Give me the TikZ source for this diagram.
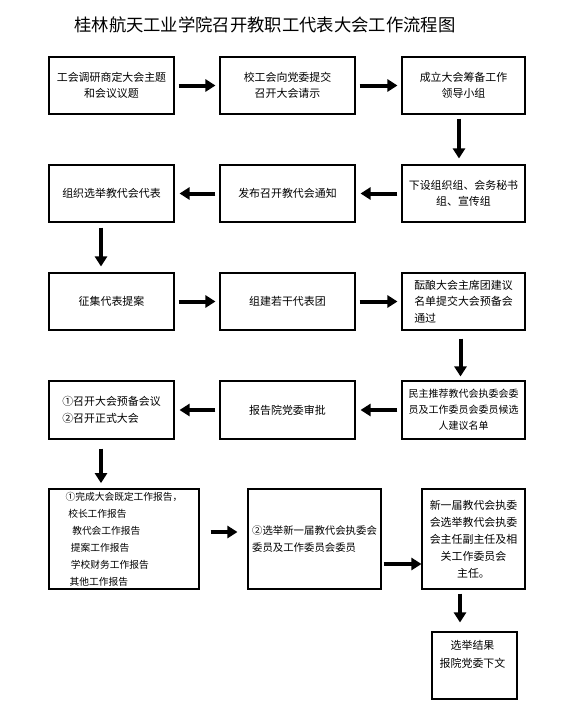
\documentclass[tikz,border=0pt]{standalone}
\usepackage{fontspec}
\newfontfamily\cjk{Noto Sans CJK SC}
\usetikzlibrary{arrows.meta, calc}

\tikzset{
  box/.style={draw, line width=0.8pt, fill=white, inner sep=0pt, align=center,
    font=\cjk\fontsize{8.2}{12.4}\selectfont},
  wideA/.style={box, minimum width=93.75pt, minimum height=42.75pt},
  wideB/.style={box, minimum width=101.25pt, minimum height=42.75pt},
  wideC/.style={box, minimum width=92.25pt, minimum height=42.75pt},
  flow/.style={line width=3pt, -{Triangle[length=7.5pt,width=9pt]},
    shorten <=3pt, shorten >=3pt},
}

\begin{document}
\begin{tikzpicture}[x=0.75pt, y=-0.75pt]
  \useasboundingbox (0,0) rectangle (575,714);
  \node[font=\cjk\fontsize{13}{15}\selectfont] (title) at (265,25) {桂林航天工业学院召开教职工代表大会工作流程图};

  % row 1
  \node[wideA] (A1) at (111.5,85.5) {工会调研商定大会主题\\和会议议题};
  \node[wideB] (B1) at (287.5,85.5) {校工会向党委提交\\召开大会请示};
  \node[wideC] (C1) at (463.5,85.5) {成立大会筹备工作\\领导小组};

  % row 2
  \node[wideA] (A2) at (111.5,193.5) {组织选举教代会代表};
  \node[wideB] (B2) at (287.5,193.5) {发布召开教代会通知};
  \node[wideC] (C2) at (463.5,193.5) {下设组织组、会务秘书\\组、宣传组};

  % row 3
  \node[wideA] (A3) at (111.5,301.5) {征集代表提案};
  \node[wideB] (B3) at (287.5,301.5) {组建若干代表团};
  \node[wideC, align=left] (C3) at (463.5,301.5) {酝酿大会主席团建议\\名单提交大会预备会\\通过};

  % row 4
  \node[wideA, align=left, minimum height=43.5pt] (A4) at (111.5,410) {①召开大会预备会议\\②召开正式大会};
  \node[wideB, minimum height=43.5pt] (B4) at (287.5,410) {报告院党委审批};
  \node[wideC, minimum height=43.5pt, font=\cjk\fontsize{7.5}{12}\selectfont] (C4) at (463.5,410)
    {民主推荐教代会执委会委\\员及工作委员会委员候选\\人建议名单};

  % row 5
  \node[box, align=left, minimum width=112.5pt, minimum height=75pt,
    font=\cjk\fontsize{7.3}{12.75}\selectfont] (A5) at (124,539)
    {①完成大会既定工作报告，\\\hspace{2pt}校长工作报告\\\hspace{5pt}教代会工作报告\\\hspace{4pt}提案工作报告\\\hspace{4pt}学校财务工作报告\\\hspace{3pt}其他工作报告};
  \node[box, align=left, minimum width=99.75pt, minimum height=75pt,
    font=\cjk\fontsize{7.8}{12.75}\selectfont] (B5) at (314.5,539)
    {②选举新一届教代会执委会\\委员及工作委员会委员};
  \node[box, minimum width=77.25pt, minimum height=75pt,
    font=\cjk\fontsize{8.2}{12.75}\selectfont] (C5) at (473.5,539)
    {新一届教代会执委\\会选举教代会执委\\会主任副主任及相\\关工作委员会\\主任。};

  % last box
  \node[box, minimum width=63.75pt, minimum height=50.25pt] (D) at (474.5,665.5) {};
  \node[font=\cjk\fontsize{8.2}{13.5}\selectfont, align=center, anchor=north] (Dtext)
    at ($(D.north)+(-2,4)$) {选举结果\\报院党委下文};

  % arrows
  \draw[flow] (A1) -- (B1);
  \draw[flow] (B1) -- (C1);
  \coordinate (c1c2) at ($(C1.south)+(-4.5,0)$);
  \draw[flow, shorten >=4.5pt] (c1c2) -- (c1c2 |- C2.north);
  \draw[flow, shorten >=3.75pt] (C2) -- (B2);
  \draw[flow, shorten >=3.75pt] (B2) -- (A2);
  \coordinate (a2a3) at ($(A2.south)+(-10.5,0)$);
  \draw[flow, shorten <=3.75pt, shorten >=4.5pt] (a2a3) -- (a2a3 |- A3.north);
  \draw[flow] (A3) -- (B3);
  \draw[flow] (B3) -- (C3);
  \coordinate (c3c4) at ($(C3.south)+(-3,0)$);
  \draw[flow, shorten <=6pt, shorten >=3pt] (c3c4) -- (c3c4 |- C4.north);
  \draw[flow, shorten >=3.75pt] (C4) -- (B4);
  \draw[flow, shorten >=3.75pt] (B4) -- (A4);
  \coordinate (a4a5) at ($(A4.south)+(-10.5,0)$);
  \draw[flow, shorten <=6.75pt, shorten >=4pt] (a4a5) -- (a4a5 |- A5.north);
  \draw[flow, shorten <=8.25pt, shorten >=7.5pt] ($(A5.east)+(0,-7)$) -- ($(B5.west)+(0,-7)$);
  \draw[flow, shorten <=1.5pt, shorten >=0pt] ($(B5.east)+(0,25)$) -- ($(C5.west)+(0,25)$);
  \coordinate (c5d) at ($(C5.south)+(-13.5,0)$);
  \draw[flow, shorten >=6.75pt] (c5d) -- (c5d |- D.north);
\end{tikzpicture}
\end{document}
